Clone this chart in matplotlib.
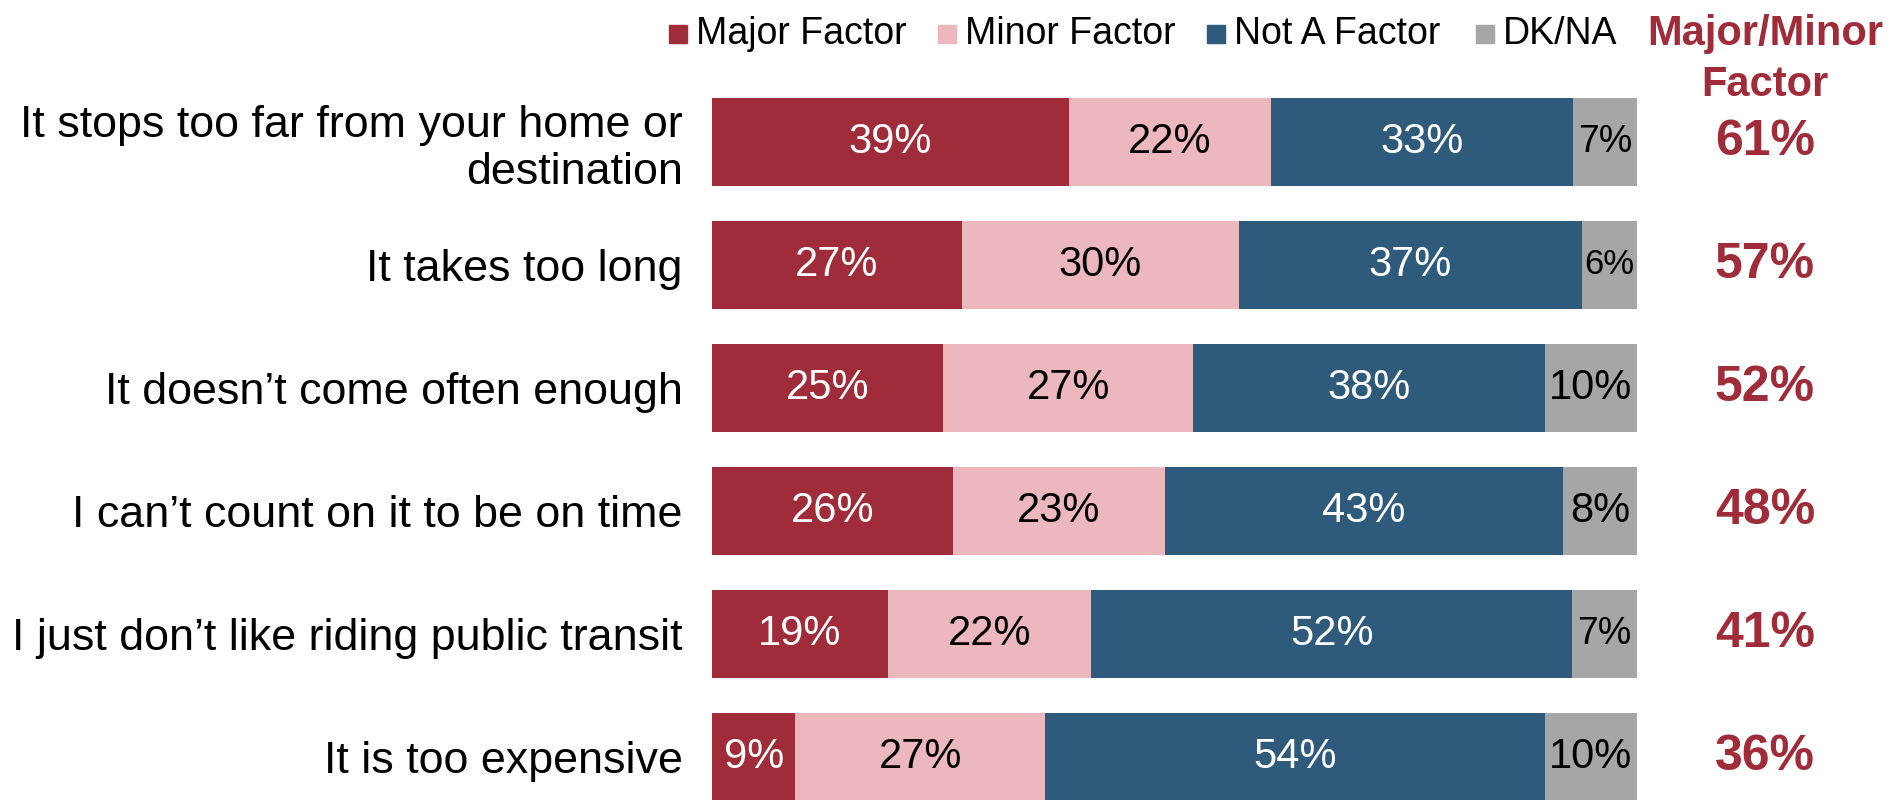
import numpy as np
import matplotlib.pyplot as plt
from matplotlib.patches import Rectangle

plt.rcParams['font.family'] = ['Liberation Sans', 'DejaVu Sans']

reasons = ["It stops too far from your home or\ndestination",
           "It takes too long",
           "It doesn\u2019t come often enough",
           "I can\u2019t count on it to be on time",
           "I just don\u2019t like riding public transit",
           "It is too expensive"]
major = [39, 27, 25, 26, 19, 9]
minor = [22, 30, 27, 23, 22, 27]
not_factor = [33, 37, 38, 43, 52, 54]
dkna = [7, 6, 10, 8, 7, 10]
combined = [61, 57, 52, 48, 41, 36]

series = ["Major Factor", "Minor Factor", "Not A Factor", "DK/NA"]
colors = ["#A02B39", "#EDB8BD", "#2E5A7C", "#A6A6A6"]
text_colors = ["white", "black", "white", "black"]
red = "#A02B39"

data = np.array([major, minor, not_factor, dkna], dtype=float)
shares = data / data.sum(axis=0) * 100

fig = plt.figure(figsize=(18.91, 8), dpi=100)
ax = fig.add_axes([712 / 1891, 0, (1637 - 712) / 1891, 1])

y = np.arange(len(reasons))
left = np.zeros(len(reasons))
for k in range(4):
    ax.barh(y, shares[k], left=left, height=0.715, color=colors[k], edgecolor='none')
    for i in range(len(reasons)):
        v = data[k][i]
        # narrow grey segments get a smaller label so it fits
        fs = 30 if v >= 8 else (27 if v == 7 else 25)
        ax.text(left[i] + shares[k][i] / 2, y[i], f"{int(v)}%",
                ha='center', va='center', color=text_colors[k], fontsize=fs)
    left += shares[k]

ax.set_xlim(0, 100)
ax.set_ylim(5.35, -1.154)
ax.set_yticks(y)
ax.set_yticklabels(reasons, fontsize=32.3, ha='right', linespacing=1.17)
ax.tick_params(axis='y', length=0, pad=21)
ax.set_xticks([])
for s in ax.spines.values():
    s.set_visible(False)

# legend across the top
leg_sq = [669, 938, 1207, 1476]
for k in range(4):
    fig.patches.append(Rectangle((leg_sq[k] / 1891, 1 - 43 / 800), 18 / 1891, 18 / 800,
                                 transform=fig.transFigure, color=colors[k]))
    fig.text((leg_sq[k] + 27) / 1891, 1 - 34 / 800, series[k], fontsize=27,
             ha='left', va='center')

# combined column on the right
fig.text(1765 / 1891, 1 - 34 / 800, "Major/Minor", fontsize=30, fontweight='bold',
         color=red, ha='center', va='center')
fig.text(1765 / 1891, 1 - 85 / 800, "Factor", fontsize=30, fontweight='bold',
         color=red, ha='center', va='center')
for i, v in enumerate(combined):
    ax.annotate(f"{v}%", xy=(1765 / 1891, y[i]), xycoords=('figure fraction', 'data'),
                ha='center', va='center', fontsize=36, fontweight='bold', color=red,
                annotation_clip=False)

fig.savefig("out.png", dpi=100)
